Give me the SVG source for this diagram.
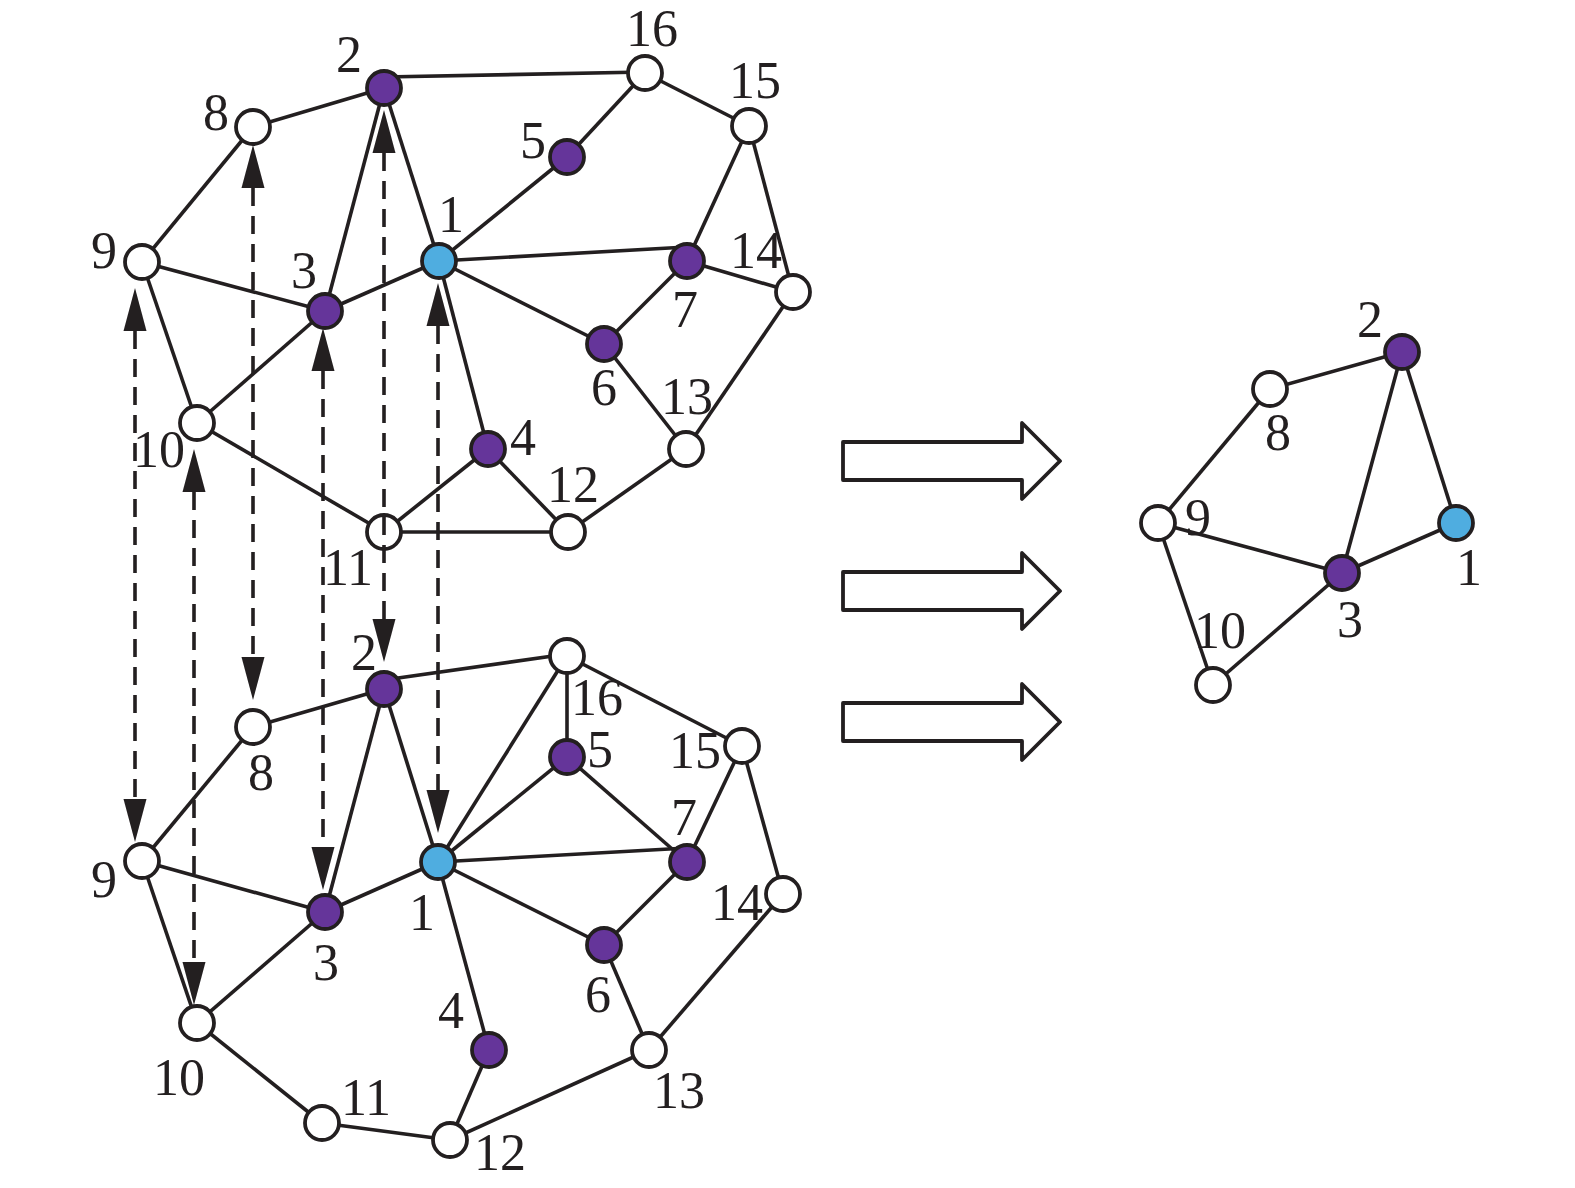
<svg xmlns="http://www.w3.org/2000/svg" width="1575" height="1188" viewBox="0 0 1575 1188">
<style>
.e{stroke:#231f20;stroke-width:3.6;fill:none}
.d{stroke:#231f20;stroke-width:3.6;fill:none;stroke-dasharray:18 10}
.n{stroke:#231f20;stroke-width:3.8}
.w{fill:#ffffff}
.p{fill:#65359a}
.b{fill:#4fade0}
text{font-family:"Liberation Serif","Times New Roman",serif;font-size:52px;fill:#231f20;text-anchor:middle}
.ba{fill:#ffffff;stroke:#231f20;stroke-width:3.8;stroke-linejoin:round}
</style>
<defs>
<marker id="ah" markerUnits="userSpaceOnUse" markerWidth="44" markerHeight="26" viewBox="0 -13 44 26" refX="0" refY="0" orient="auto-start-reverse">
<path d="M0,-11.5 L43,0 L0,11.5 Z" fill="#231f20"/>
</marker>
</defs>
<rect width="1575" height="1188" fill="#ffffff"/>

<g id="edges">
<!-- top graph -->
<line class="e" x1="384" y1="88" x2="253" y2="127"/>
<line class="e" x1="384" y1="77" x2="645" y2="72"/>
<line class="e" x1="384" y1="88" x2="325" y2="311"/>
<line class="e" x1="384" y1="88" x2="439" y2="261"/>
<line class="e" x1="253" y1="127" x2="142" y2="262"/>
<line class="e" x1="142" y1="262" x2="325" y2="311"/>
<line class="e" x1="142" y1="262" x2="197" y2="423"/>
<line class="e" x1="325" y1="311" x2="439" y2="261"/>
<line class="e" x1="325" y1="311" x2="197" y2="423"/>
<line class="e" x1="439" y1="261" x2="567" y2="157"/>
<line class="e" x1="567" y1="157" x2="645" y2="73"/>
<line class="e" x1="645" y1="73" x2="749" y2="126"/>
<line class="e" x1="749" y1="126" x2="687" y2="261"/>
<line class="e" x1="749" y1="126" x2="793" y2="292"/>
<line class="e" x1="439" y1="261" x2="687" y2="247"/>
<line class="e" x1="687" y1="261" x2="793" y2="292"/>
<line class="e" x1="439" y1="261" x2="604" y2="344"/>
<line class="e" x1="604" y1="344" x2="687" y2="261"/>
<line class="e" x1="604" y1="344" x2="686" y2="449"/>
<line class="e" x1="793" y1="292" x2="686" y2="449"/>
<line class="e" x1="439" y1="261" x2="488" y2="449"/>
<line class="e" x1="488" y1="449" x2="384" y2="532"/>
<line class="e" x1="488" y1="449" x2="568" y2="532"/>
<line class="e" x1="197" y1="423" x2="384" y2="532"/>
<line class="e" x1="384" y1="532" x2="568" y2="532"/>
<line class="e" x1="568" y1="532" x2="686" y2="449"/>
<!-- bottom graph -->
<line class="e" x1="384" y1="689" x2="253" y2="727"/>
<line class="e" x1="384" y1="680" x2="567" y2="654"/>
<line class="e" x1="384" y1="689" x2="325" y2="912"/>
<line class="e" x1="384" y1="689" x2="438" y2="862"/>
<line class="e" x1="253" y1="727" x2="142" y2="861"/>
<line class="e" x1="142" y1="861" x2="325" y2="912"/>
<line class="e" x1="142" y1="861" x2="197" y2="1023"/>
<line class="e" x1="325" y1="912" x2="438" y2="862"/>
<line class="e" x1="325" y1="912" x2="197" y2="1023"/>
<line class="e" x1="438" y1="862" x2="567" y2="656"/>
<line class="e" x1="438" y1="862" x2="567" y2="757"/>
<line class="e" x1="438" y1="862" x2="687" y2="848"/>
<line class="e" x1="438" y1="862" x2="604" y2="945"/>
<line class="e" x1="438" y1="862" x2="489" y2="1050"/>
<line class="e" x1="567" y1="656" x2="567" y2="757"/>
<line class="e" x1="567" y1="656" x2="742" y2="746"/>
<line class="e" x1="567" y1="757" x2="687" y2="862"/>
<line class="e" x1="742" y1="746" x2="687" y2="862"/>
<line class="e" x1="742" y1="746" x2="783" y2="894"/>
<line class="e" x1="687" y1="862" x2="604" y2="945"/>
<line class="e" x1="604" y1="945" x2="649" y2="1050"/>
<line class="e" x1="783" y1="894" x2="649" y2="1050"/>
<line class="e" x1="649" y1="1050" x2="450" y2="1140"/>
<line class="e" x1="489" y1="1050" x2="450" y2="1140"/>
<line class="e" x1="197" y1="1023" x2="322" y2="1123"/>
<line class="e" x1="322" y1="1123" x2="450" y2="1140"/>
<!-- right graph -->
<line class="e" x1="1402" y1="352" x2="1270" y2="389"/>
<line class="e" x1="1270" y1="389" x2="1158" y2="523"/>
<line class="e" x1="1402" y1="352" x2="1342" y2="573"/>
<line class="e" x1="1402" y1="352" x2="1456" y2="523"/>
<line class="e" x1="1158" y1="523" x2="1342" y2="573"/>
<line class="e" x1="1158" y1="523" x2="1213" y2="685"/>
<line class="e" x1="1342" y1="573" x2="1456" y2="523"/>
<line class="e" x1="1342" y1="573" x2="1213" y2="685"/>
</g>

<g id="top-graph">
<g id="t1"><circle class="n b" cx="439" cy="261" r="17"/><text x="451" y="232">1</text></g>
<g id="t2"><circle class="n p" cx="384" cy="88" r="17"/><text x="349" y="72">2</text></g>
<g id="t3"><circle class="n p" cx="325" cy="311" r="17"/><text x="304" y="288">3</text></g>
<g id="t4"><circle class="n p" cx="488" cy="449" r="17"/><text x="523" y="455">4</text></g>
<g id="t5"><circle class="n p" cx="567" cy="157" r="17"/><text x="533" y="158">5</text></g>
<g id="t6"><circle class="n p" cx="604" cy="344" r="17"/><text x="604" y="405">6</text></g>
<g id="t7"><circle class="n p" cx="687" cy="261" r="17"/><text x="685" y="327">7</text></g>
<g id="t8"><circle class="n w" cx="253" cy="127" r="17"/><text x="216" y="130">8</text></g>
<g id="t9"><circle class="n w" cx="142" cy="262" r="17"/><text x="104" y="268">9</text></g>
<g id="t10"><circle class="n w" cx="197" cy="423" r="17"/><text x="159" y="467">10</text></g>
<g id="t11"><circle class="n w" cx="384" cy="532" r="17"/><text x="348" y="585">11</text></g>
<g id="t12"><circle class="n w" cx="568" cy="532" r="17"/><text x="573" y="502">12</text></g>
<g id="t13"><circle class="n w" cx="686" cy="449" r="17"/><text x="687" y="414">13</text></g>
<g id="t14"><circle class="n w" cx="793" cy="292" r="17"/><text x="756" y="268">14</text></g>
<g id="t15"><circle class="n w" cx="749" cy="126" r="17"/><text x="755" y="98">15</text></g>
<g id="t16"><circle class="n w" cx="645" cy="73" r="17"/><text x="652" y="46">16</text></g>
</g>

<g id="bottom-graph">
<g id="b1"><circle class="n b" cx="438" cy="862" r="17"/><text x="422" y="930">1</text></g>
<g id="b2"><circle class="n p" cx="384" cy="689" r="17"/><text x="364" y="670">2</text></g>
<g id="b3"><circle class="n p" cx="325" cy="912" r="17"/><text x="326" y="980">3</text></g>
<g id="b4"><circle class="n p" cx="489" cy="1050" r="17"/><text x="451" y="1028">4</text></g>
<g id="b5"><circle class="n p" cx="567" cy="757" r="17"/><text x="600" y="767">5</text></g>
<g id="b6"><circle class="n p" cx="604" cy="945" r="17"/><text x="598" y="1012">6</text></g>
<g id="b7"><circle class="n p" cx="687" cy="862" r="17"/><text x="684" y="835">7</text></g>
<g id="b8"><circle class="n w" cx="253" cy="727" r="17"/><text x="261" y="790">8</text></g>
<g id="b9"><circle class="n w" cx="142" cy="861" r="17"/><text x="104" y="897">9</text></g>
<g id="b10"><circle class="n w" cx="197" cy="1023" r="17"/><text x="179" y="1095">10</text></g>
<g id="b11"><circle class="n w" cx="322" cy="1123" r="17"/><text x="366" y="1115">11</text></g>
<g id="b12"><circle class="n w" cx="450" cy="1140" r="17"/><text x="500" y="1170">12</text></g>
<g id="b13"><circle class="n w" cx="649" cy="1050" r="17"/><text x="679" y="1108">13</text></g>
<g id="b14"><circle class="n w" cx="783" cy="894" r="17"/><text x="737" y="920">14</text></g>
<g id="b15"><circle class="n w" cx="742" cy="746" r="17"/><text x="695" y="768">15</text></g>
<g id="b16"><circle class="n w" cx="567" cy="656" r="17"/><text x="597" y="715">16</text></g>
</g>

<g id="right-graph">
<g id="r1"><circle class="n b" cx="1456" cy="523" r="17"/><text x="1469" y="585">1</text></g>
<g id="r2"><circle class="n p" cx="1402" cy="352" r="17"/><text x="1370" y="337">2</text></g>
<g id="r3"><circle class="n p" cx="1342" cy="573" r="17"/><text x="1350" y="637">3</text></g>
<g id="r8"><circle class="n w" cx="1270" cy="389" r="17"/><text x="1278" y="450">8</text></g>
<g id="r9"><circle class="n w" cx="1158" cy="523" r="17"/><text x="1198" y="535">9</text></g>
<g id="r10"><circle class="n w" cx="1213" cy="685" r="17"/><text x="1220" y="648">10</text></g>
</g>

<g id="dashed-links">
<line class="d" x1="135" y1="331" x2="135" y2="799" marker-start="url(#ah)" marker-end="url(#ah)"/>
<line class="d" x1="194" y1="492" x2="194" y2="962" marker-start="url(#ah)" marker-end="url(#ah)"/>
<line class="d" x1="253" y1="188" x2="253" y2="657" marker-start="url(#ah)" marker-end="url(#ah)"/>
<line class="d" x1="323" y1="371" x2="323" y2="847" marker-start="url(#ah)" marker-end="url(#ah)"/>
<line class="d" x1="384" y1="153" x2="384" y2="619" marker-start="url(#ah)" marker-end="url(#ah)"/>
<line class="d" x1="438" y1="326" x2="438" y2="790" marker-start="url(#ah)" marker-end="url(#ah)"/>
</g>

<g id="block-arrows">
<path class="ba" d="M843,442 H1022 V423 L1060,461 L1022,499 V480 H843 Z"/>
<path class="ba" d="M843,572 H1022 V553 L1060,591 L1022,629 V610 H843 Z"/>
<path class="ba" d="M843,703 H1022 V684 L1060,722 L1022,760 V741 H843 Z"/>
</g>
</svg>
